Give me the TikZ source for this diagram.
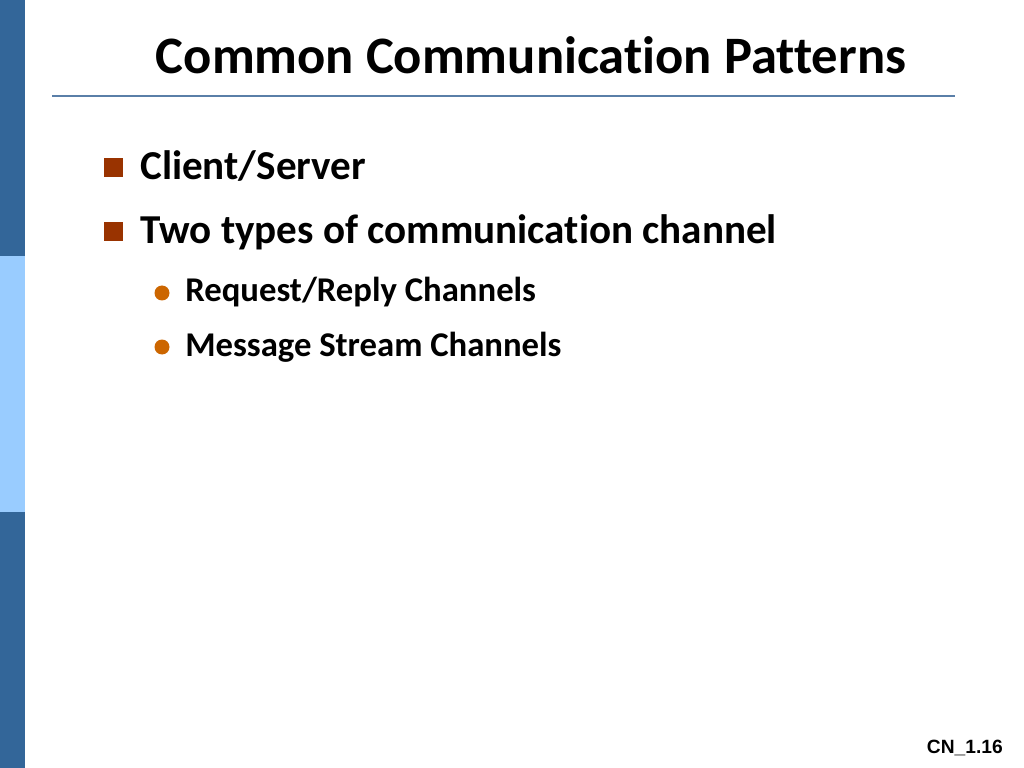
\documentclass[tikz,border=0pt]{standalone}
\usepackage{fontspec}
\setmainfont{Carlito}[Ligatures=NoCommon]
\newfontfamily\footfont{Liberation Sans}
\definecolor{bardark}{HTML}{336699}
\definecolor{barlight}{HTML}{99CCFF}
\definecolor{rulecol}{HTML}{5A7FA8}
\definecolor{squarecol}{HTML}{993300}
\definecolor{dotcol}{HTML}{CC6600}
\begin{document}
\begin{tikzpicture}[x=0.703125pt,y=-0.703125pt]
\newcommand{\mytitlefont}[1]{
\fontsize{37}{41}\selectfont\bfseries{#1}
}\newcommand{\mybulletfont}[1]{
\fontsize{28.9}{32}\selectfont\bfseries{#1}
}\newcommand{\mysubfont}[1]{
\fontsize{24.4}{28}\selectfont\bfseries{#1}
}%Page
\useasboundingbox[fill=white] (0,0) rectangle (1024,768);
%Side bar
\fill[bardark] (0,0) rectangle (25,256);
\fill[barlight] (0,256) rectangle (25,512);
\fill[bardark] (0,512) rectangle (25,768);
%Title and rule
\coordinate (titlepos) at (531,74);
\node [anchor=base, inner sep=0] (title) at (titlepos) {\mytitlefont{Common Communication Patterns}};
\coordinate (ruleL) at (52,96);
\coordinate (ruleR) at (955,96);
\draw [rulecol, line width=1.5] (ruleL) -- (ruleR);
%First level bullets
\coordinate (b1) at (140,180);
\coordinate (b2) at (140,244);
\fill [squarecol] (104,158) rectangle (123,177);
\fill [squarecol] (104,222) rectangle (123,241);
\node [anchor=base west, inner sep=0] (item1) at (b1) {\mybulletfont{Client/Server}};
\node [anchor=base west, inner sep=0] (item2) at (b2) {\mybulletfont{Two types of communication channel}};
%Second level bullets
\coordinate (s1) at (185,302);
\coordinate (s2) at (185,356);
\fill [dotcol] (162,293) circle (7.5);
\fill [dotcol] (162,347) circle (7.5);
\node [anchor=base west, inner sep=0] (sub1) at (s1) {\mysubfont{Request/Reply Channels}};
\node [anchor=base west, inner sep=0] (sub2) at (s2) {\mysubfont{Message Stream Channels}};
%Footer
\coordinate (footpos) at (1003,753);
\node [anchor=base east, inner sep=0] (foot) at (footpos) {\footfont\fontsize{13.5}{16}\selectfont\bfseries CN\_1.16};
\end{tikzpicture}
\end{document}
